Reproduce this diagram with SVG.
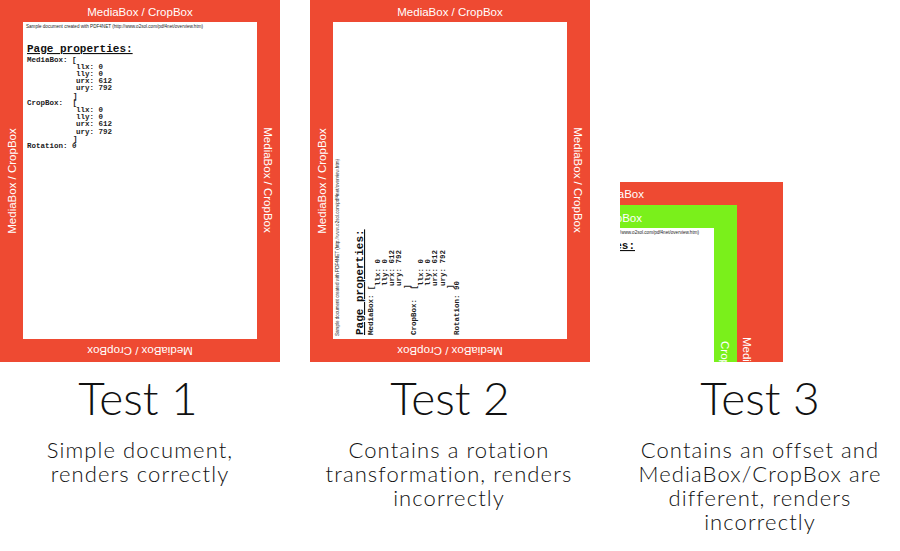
<svg xmlns="http://www.w3.org/2000/svg" xmlns:xlink="http://www.w3.org/1999/xlink" width="900" height="551" viewBox="0 0 900 551">
<style>
.red{fill:#EE4A32}
.green{fill:#7AF01B}
.white{fill:#FFFFFF}
.lbl{font-family:"Liberation Sans",Arial,sans-serif;font-size:11.5px;fill:#FFFFFF}
.tiny{font-family:"Liberation Sans",Arial,sans-serif;font-size:5px;fill:#222}
.ptitle{font-family:"Liberation Mono","Courier New",monospace;font-size:11px;font-weight:bold;fill:#111;text-decoration:underline}
.mono{font-family:"Liberation Mono","Courier New",monospace;font-size:7.5px;font-weight:bold;fill:#222}
.title{font-family:Lato,"Open Sans",sans-serif;font-weight:300;font-size:46px;fill:#111;text-anchor:middle}
.sub{font-family:Lato,"Open Sans",sans-serif;font-weight:300;font-size:22px;letter-spacing:1.1px;fill:#111;text-anchor:middle}
</style>
<defs>
<g id="pagecontent">
<text class="tiny" x="3" y="6" textLength="177" lengthAdjust="spacingAndGlyphs">Sample document created with PDF4NET (http://www.o2sol.com/pdf4net/overview.htm)</text>
<text class="ptitle" x="4" y="30">Page properties:</text>
<text class="mono" x="4" y="39.5">MediaBox: [</text>
<text class="mono" x="53" y="46.7">llx: 0</text>
<text class="mono" x="53" y="53.9">lly: 0</text>
<text class="mono" x="53" y="61.1">urx: 612</text>
<text class="mono" x="53" y="68.3">ury: 792</text>
<text class="mono" x="50" y="75.5">]</text>
<text class="mono" x="4" y="82.7">CropBox:</text>
<text class="mono" x="49.5" y="82.7">[</text>
<text class="mono" x="53" y="89.9">llx: 0</text>
<text class="mono" x="53" y="97.1">lly: 0</text>
<text class="mono" x="53" y="104.3">urx: 612</text>
<text class="mono" x="53" y="111.5">ury: 792</text>
<text class="mono" x="50" y="118.7">]</text>
</g>
<clipPath id="c3red"><rect x="620" y="182" width="163" height="180"/></clipPath>
<clipPath id="c3green"><rect x="620" y="205" width="117" height="157"/></clipPath>
<clipPath id="c3white"><rect x="620" y="228" width="94" height="134"/></clipPath>
</defs>

<g id="test1">
<rect class="red" x="0" y="0" width="280" height="362"/>
<rect class="white" x="23" y="22" width="234" height="317"/>
<text class="lbl" x="140" y="15.5" text-anchor="middle">MediaBox / CropBox</text>
<text class="lbl" text-anchor="middle" transform="translate(16,181) rotate(-90)">MediaBox / CropBox</text>
<text class="lbl" text-anchor="middle" transform="translate(264,180) rotate(90)">MediaBox / CropBox</text>
<text class="lbl" text-anchor="middle" transform="translate(140,346.5) rotate(180)">MediaBox / CropBox</text>
<g transform="translate(23,22)">
<use xlink:href="#pagecontent"/>
<text class="mono" x="4" y="125.9">Rotation: 0</text>
</g>
</g>

<g id="test2">
<rect class="red" x="310" y="0" width="280" height="362"/>
<rect class="white" x="333" y="22" width="234" height="317"/>
<text class="lbl" x="450" y="15.5" text-anchor="middle">MediaBox / CropBox</text>
<text class="lbl" text-anchor="middle" transform="translate(326,181) rotate(-90)">MediaBox / CropBox</text>
<text class="lbl" text-anchor="middle" transform="translate(574,180) rotate(90)">MediaBox / CropBox</text>
<text class="lbl" text-anchor="middle" transform="translate(450,346.5) rotate(180)">MediaBox / CropBox</text>
<g transform="translate(333,339) rotate(-90)">
<use xlink:href="#pagecontent"/>
<text class="mono" x="4" y="125.9">Rotation: 90</text>
</g>
</g>

<g id="test3">
<rect class="red" x="620" y="182" width="163" height="180"/>
<rect class="green" x="620" y="205" width="117" height="157"/>
<rect class="white" x="620" y="228" width="94" height="134"/>
<g clip-path="url(#c3red)">
<text class="lbl" x="644" y="198" text-anchor="end">MediaBox</text>
<text class="lbl" transform="translate(743,337) rotate(90)">MediaBox</text>
</g>
<g clip-path="url(#c3green)">
<text class="lbl" x="642" y="222" text-anchor="end">CropBox</text>
<text class="lbl" transform="translate(721,341) rotate(90)">CropBox</text>
</g>
<g clip-path="url(#c3white)">
<text class="tiny" x="699" y="234" text-anchor="end" textLength="177" lengthAdjust="spacingAndGlyphs">Sample document created with PDF4NET (http://www.o2sol.com/pdf4net/overview.htm)</text>
<text class="ptitle" x="635" y="249" text-anchor="end">Page properties:</text>
</g>
</g>

<g id="captions">
<text class="title" x="138" y="415">Test 1</text>
<text class="sub" x="140" y="458">Simple document,</text>
<text class="sub" x="140" y="482">renders correctly</text>
<text class="title" x="450" y="415">Test 2</text>
<text class="sub" x="449" y="458">Contains a rotation</text>
<text class="sub" x="449" y="482">transformation, renders</text>
<text class="sub" x="449" y="506">incorrectly</text>
<text class="title" x="760" y="415">Test 3</text>
<text class="sub" x="760" y="458">Contains an offset and</text>
<text class="sub" x="760" y="482">MediaBox/CropBox are</text>
<text class="sub" x="760" y="506">different, renders</text>
<text class="sub" x="760" y="530">incorrectly</text>
</g>
</svg>
